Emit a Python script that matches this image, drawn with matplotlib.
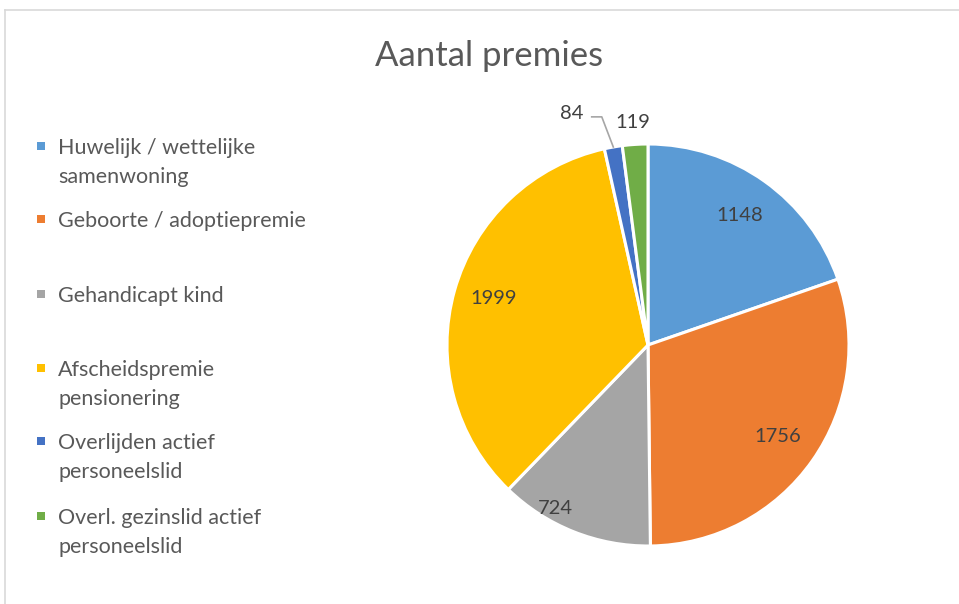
import matplotlib
matplotlib.use("Agg")
import matplotlib.pyplot as plt
from matplotlib.patches import Rectangle
import numpy as np

plt.rcParams['font.family'] = ['Lato', 'DejaVu Sans']

title = "Aantal premies"
categories = ["Huwelijk / wettelijke\nsamenwoning", "Geboorte / adoptiepremie", "Gehandicapt kind",
              "Afscheidspremie\npensionering", "Overlijden actief\npersoneelslid",
              "Overl. gezinslid actief\npersoneelslid"]
values = [1148, 1756, 724, 1999, 84, 119]
colors = ["#5B9BD5", "#ED7D31", "#A5A5A5", "#FFC000", "#4472C4", "#70AD47"]

W, H = 959, 604
fig = plt.figure(figsize=(W / 100, H / 100), dpi=100)
fig.patch.set_facecolor("white")

# outer chart border (top/left visible)
fig.add_artist(plt.Line2D([5 / W, 1.0], [1 - 10 / H, 1 - 10 / H], transform=fig.transFigure,
                          color="#D9D9D9", lw=1.2))
fig.add_artist(plt.Line2D([5 / W, 5 / W], [0, 1 - 10 / H], transform=fig.transFigure,
                          color="#D9D9D9", lw=1.2))

cx, cy, r = 648, 345, 201
ax = fig.add_axes([(cx - r) / W, (H - cy - r) / H, 2 * r / W, 2 * r / H])
wedges, _ = ax.pie(values, colors=colors, startangle=90, counterclock=False,
                   wedgeprops=dict(edgecolor="white", linewidth=2.2), radius=1)
ax.set_xlim(-1, 1)
ax.set_ylim(-1, 1)
ax.set_aspect("auto")
ax.axis("off")

lab_fs = 14.5
# label placement: (angle shift in degrees, distance from centre in radii)
label_place = [(0, 0.79), (0, 0.79), (-8, 0.935), (-1, 0.80), (None, None), (None, None)]
for w, v, (sh, d) in zip(wedges, values, label_place):
    mid = np.deg2rad((w.theta1 + w.theta2) / 2)
    if sh is not None:
        a = mid + np.deg2rad(sh)
        ax.text(d * np.cos(a), d * np.sin(a), str(v), ha="center", va="center",
                fontsize=lab_fs, color="#404040")

# small slices: outside labels
w84 = wedges[4]
m84 = np.deg2rad((w84.theta1 + w84.theta2) / 2)
ex, ey = np.cos(m84), np.sin(m84)
ax.text(-0.378, 1.154, str(values[4]), ha="center", va="center", fontsize=lab_fs, color="#404040",
        clip_on=False)
ax.plot([-0.28, -0.23, ex * 1.0], [1.135, 1.135, ey * 1.0], color="#A6A6A6", lw=1.2,
        clip_on=False)
ax.text(-0.075, 1.109, str(values[5]), ha="center", va="center", fontsize=lab_fs, color="#404040",
        clip_on=False)

# title
fig.text(489 / W, 1 - 56 / H, title, ha="center", va="center", fontsize=25, color="#595959")

# legend
leg_y = [146, 219, 294, 368, 441, 516]
for lab, col, y in zip(categories, colors, leg_y):
    fig.add_artist(Rectangle((37 / W, 1 - (y + 4) / H), 8 / W, 8 / H, transform=fig.transFigure,
                             facecolor=col, edgecolor="none"))
    for i, line in enumerate(lab.split("\n")):
        fig.text(58 / W, 1 - (y + i * 29) / H, line, ha="left", va="center_baseline",
                 fontsize=15.5, color="#595959")

fig.savefig("out.png", dpi=100)
